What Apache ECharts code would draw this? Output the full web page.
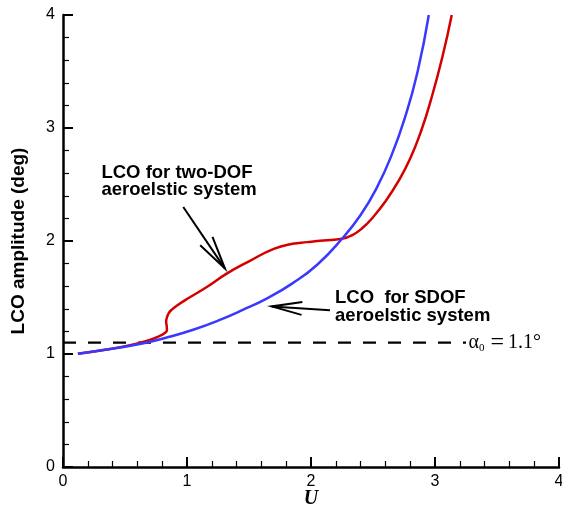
<!DOCTYPE html>
<html>
<head>
<meta charset="utf-8">
<script src="https://cdn.jsdelivr.net/npm/echarts@6/dist/echarts.min.js"></script>
<style>
  html, body { margin: 0; padding: 0; background: #fff; }
  #chart { width: 562px; height: 509px; }
</style>
</head>
<body>
<div id="chart"></div>
<script>
// LCO amplitude versus reduced velocity U
const sdofU = [0.12, 0.38, 0.65, 0.85, 1.05, 1.25, 1.45, 1.65, 1.85, 2.05, 2.25, 2.40, 2.53, 2.65, 2.76, 2.86, 2.95];
const sdofA = [1.003, 1.045, 1.095, 1.15, 1.215, 1.295, 1.39, 1.495, 1.625, 1.79, 2.02, 2.23, 2.47, 2.76, 3.10, 3.50, 4.0];

const twoDofU = [0.12, 0.38, 0.55, 0.70, 0.78, 0.82, 0.838, 0.836, 0.832, 0.84, 0.855, 0.88, 0.92, 1.02, 1.16, 1.32, 1.50, 1.70, 1.85, 1.97, 2.10, 2.25, 2.33, 2.41, 2.50, 2.60, 2.70, 2.80, 2.89, 2.97, 3.06, 3.135];
const twoDofA = [1.003, 1.045, 1.08, 1.125, 1.16, 1.185, 1.21, 1.25, 1.285, 1.33, 1.365, 1.395, 1.43, 1.50, 1.593, 1.711, 1.82, 1.93, 1.975, 1.99, 2.005, 2.02, 2.05, 2.11, 2.21, 2.35, 2.52, 2.73, 2.98, 3.26, 3.63, 4.0];

const alpha0 = 1.1;
const xTicks = [0, 1, 2, 3, 4];
const yTicks = [0, 1, 2, 3, 4];

// annotation anchors in data space: [U, amplitude]
const twoDofNote = { text: 'LCO for two-DOF\naeroelstic system', at: [0.31, 2.528], tail: [0.97, 2.301], tip: [1.306, 1.756] };
const sdofNote = { text: 'LCO  for SDOF\naeroelstic system', at: [2.194, 1.418], tail: [2.153, 1.387], tip: [1.683, 1.421] };
const alphaNoteAt = [3.27, 1.1];
const dashEndU = 3.25;

const zip = (u, a) => u.map((v, i) => [v, a[i]]);

const chart = echarts.init(document.getElementById('chart'), null, { renderer: 'canvas' });

const axisText = { color: '#000', fontFamily: 'Liberation Sans, Arial, sans-serif', fontSize: 16 };

chart.setOption({
  animation: false,
  backgroundColor: '#fff',
  grid: { left: 63, right: 3, top: 15, bottom: 42, containLabel: false, outerBoundsMode: 'none' },
  xAxis: {
    type: 'value', min: xTicks[0], max: xTicks[xTicks.length - 1], interval: 1,
    name: 'U', nameLocation: 'middle', nameGap: 22, nameMoveOverlap: false,
    nameTextStyle: { fontFamily: 'Liberation Serif, Times New Roman, serif', fontWeight: 'bold', fontStyle: 'italic', fontSize: 20, color: '#000' },
    axisLine: { show: true, onZero: false, lineStyle: { color: '#000', width: 2.5 } },
    axisTick: { show: true, inside: true, length: 10, lineStyle: { color: '#000', width: 2 } },
    minorTick: { show: true, splitNumber: 5, length: 6, lineStyle: { color: '#000', width: 1.2 } },
    axisLabel: Object.assign({ margin: 7 }, axisText),
    splitLine: { show: false }
  },
  yAxis: {
    type: 'value', min: yTicks[0], max: yTicks[yTicks.length - 1], interval: 1,
    name: 'LCO amplitude (deg)', nameLocation: 'middle', nameGap: 35, nameRotate: 90,
    nameTextStyle: { fontFamily: 'Liberation Sans, Arial, sans-serif', fontWeight: 'bold', fontSize: 19, color: '#000' },
    axisLine: { show: true, onZero: false, lineStyle: { color: '#000', width: 2.5 } },
    axisTick: { show: true, inside: true, length: 10, lineStyle: { color: '#000', width: 2 } },
    minorTick: { show: true, splitNumber: 5, length: 6, lineStyle: { color: '#000', width: 1.2 } },
    axisLabel: Object.assign({ margin: 8 }, axisText),
    splitLine: { show: false }
  },
  series: [
    {
      name: 'two-DOF', type: 'line', data: zip(twoDofU, twoDofA), smooth: 0.5,
      showSymbol: false, lineStyle: { color: '#d40000', width: 2.5 }, z: 3
    },
    {
      name: 'SDOF', type: 'line', data: zip(sdofU, sdofA), smooth: 0.5,
      showSymbol: false, lineStyle: { color: '#3838ff', width: 2.5 }, z: 4
    },
    {
      name: 'alpha0', type: 'line', data: [[0, alpha0], [dashEndU, alpha0]],
      showSymbol: false, lineStyle: { color: '#000', width: 2.2, type: [13, 12] }, z: 2
    }
  ]
});

// Annotations: text blocks and open arrows, positioned from data coordinates
function px(p) { return chart.convertToPixel({ gridIndex: 0 }, p); }

function arrow(tail, tip, headLen, headAngle) {
  const t = px(tail), h = px(tip);
  const ang = Math.atan2(t[1] - h[1], t[0] - h[0]);
  const wing = (s) => [h[0] + headLen * Math.cos(ang + s * headAngle), h[1] + headLen * Math.sin(ang + s * headAngle)];
  const style = { stroke: '#000', lineWidth: 2, fill: null };
  return [
    { type: 'line', shape: { x1: t[0], y1: t[1], x2: h[0], y2: h[1] }, style, z: 10 },
    { type: 'polyline', shape: { points: [wing(1), h, wing(-1)] }, style, z: 10 }
  ];
}

function note(n) {
  const p = px(n.at);
  return {
    type: 'text', x: p[0], y: p[1], z: 10,
    style: {
      text: n.text, fill: '#000', textAlign: 'left', textVerticalAlign: 'middle',
      font: 'bold 18.5px "Liberation Sans", Arial, sans-serif', lineHeight: 17.5
    }
  };
}

const serif = 'Liberation Serif, Times New Roman, serif';
const ap = px(alphaNoteAt);
chart.setOption({
  graphic: [
    note(twoDofNote),
    note(sdofNote),
    ...arrow(twoDofNote.tail, twoDofNote.tip, 34, 0.22),
    ...arrow(sdofNote.tail, sdofNote.tip, 31, 0.21),
    {
      type: 'text', x: ap[0], y: ap[1], z: 10,
      style: {
        text: '{a|α}{s|0}{e|=}{a|1.1°}', textAlign: 'left', textVerticalAlign: 'middle',
        rich: {
          a: { fontFamily: serif, fontSize: 20, fill: '#000' },
          s: { fontFamily: serif, fontSize: 11, fill: '#000', padding: [10, 0, 0, 0] },
          e: { fontFamily: serif, fontSize: 24, fill: '#000', padding: [0, 4, 0, 6] }
        }
      }
    }
  ]
});
</script>
</body>
</html>
